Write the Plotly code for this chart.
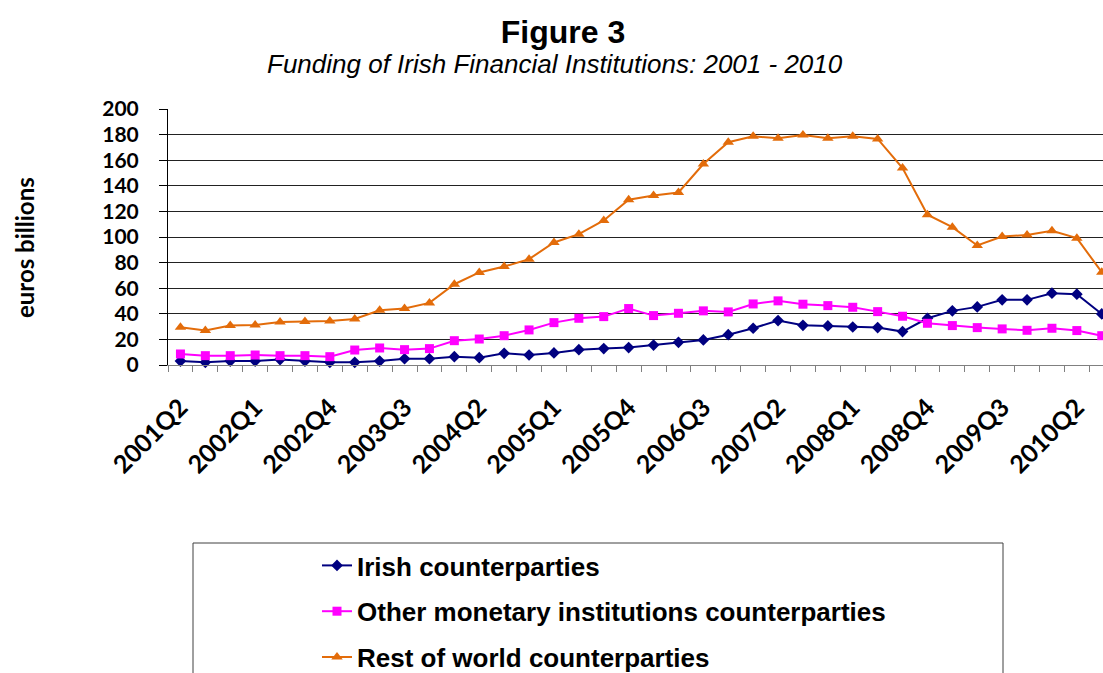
import plotly.graph_objects as go

# quarters 2001Q2 .. 2010Q3
quarters = [f"{y}Q{q}" for y in range(2001, 2011) for q in range(1, 5)][1:39]

irish = [3.1, 2.1, 3.1, 3.1, 4.2, 3.1, 2.1, 2.1, 3.1, 4.9, 4.9, 6.5,
         5.7, 9.1, 7.8, 9.4, 12.0, 12.8, 13.6, 15.6, 17.7, 19.6, 23.7, 28.7,
         34.7, 31.0, 30.5, 29.7, 29.2, 26.1, 36.5, 42.3, 45.4, 50.9, 50.9, 56.1,
         55.3, 39.9]
other_mfi = [8.6, 7.3, 7.3, 7.8, 7.3, 7.3, 6.5, 11.7, 13.3, 12.0, 12.8, 19.0,
             20.3, 22.9, 27.4, 33.1, 36.5, 37.8, 44.1, 38.6, 40.4, 42.3, 41.5, 47.7,
             50.1, 47.5, 46.4, 45.1, 41.7, 38.1, 32.6, 30.8, 29.2, 28.2, 27.1, 28.7,
             26.9, 22.9]
rest_world = [29.5, 26.9, 30.8, 31.3, 33.6, 33.9, 34.4, 36.0, 42.8, 44.1, 48.5, 63.1,
              72.3, 76.9, 82.7, 95.7, 102.2, 112.9, 129.1, 132.5, 134.8, 157.0, 174.0, 178.7,
              177.1, 179.7, 177.1, 178.7, 176.6, 153.9, 117.4, 107.7, 93.4, 100.4, 101.5, 104.9,
              99.1, 72.5]

series = [
    ("Irish counterparties", irish, "#000080", "diamond", 9),
    ("Other monetary institutions counterparties", other_mfi, "#FF00FF", "square", 9),
    ("Rest of world counterparties", rest_world, "#E36C0A", "triangle-up", 10),
]

W, H = 1103, 673
L, R, T, B = 168, 0, 109, 308
pw, ph = W - L - R, H - T - B


def px_x(x):
    return (x - L) / pw


def px_y(y):
    return (H - B - y) / ph


xs = list(range(len(quarters)))
fig = go.Figure()
for name, vals, col, sym, size in series:
    fig.add_trace(go.Scatter(
        x=xs, y=vals, name=name, legendgroup=name, mode="lines+markers",
        line=dict(color=col, width=2),
        marker=dict(symbol=sym, size=size, color=col),
        cliponaxis=False,
    ))

tick_font = dict(family="Lato", size=21, color="black", weight="bold")

fig.update_layout(
    width=W, height=H,
    margin=dict(l=L, r=R, t=T, b=B, autoexpand=False),
    plot_bgcolor="white", paper_bgcolor="white",
    showlegend=True,
    legend=dict(
        x=px_x(317), y=px_y(542), xanchor="left", yanchor="top",
        font=dict(family="Liberation Sans", size=26, color="black", weight="bold"),
        bgcolor="rgba(0,0,0,0)", traceorder="grouped", tracegroupgap=9, itemwidth=30,
    ),
    title=dict(text="<b>Figure 3</b>", x=563 / W, y=1 - 32 / H, xanchor="center", yanchor="middle",
               font=dict(family="Liberation Sans", size=32, color="black")),
)

fig.update_xaxes(
    range=[-0.5, 37.05],
    tickmode="array", tickvals=xs[::3], ticktext=quarters[::3],
    tickangle=-45, tickfont=dict(tick_font, size=25), ticks="", ticklabelstandoff=17,
    showgrid=False, zeroline=False,
    showline=True, linecolor="#808080", linewidth=1,
    minor=dict(tickmode="linear", tick0=-0.5, dtick=1, ticks="outside", ticklen=6,
               tickcolor="#808080", showgrid=False),
)
fig.update_yaxes(
    range=[0, 200], dtick=20, tickfont=tick_font,
    ticks="outside", ticklen=8, tickcolor="black", ticklabelstandoff=16,
    showgrid=True, gridcolor="#222222", gridwidth=1, zeroline=False,
    showline=True, linecolor="black", linewidth=1,
)

# subtitle and axis title
fig.add_annotation(text="<i>Funding of Irish Financial Institutions: 2001 - 2010</i>",
                   x=px_x(555), y=px_y(64), xref="paper", yref="paper", showarrow=False,
                   xanchor="center", yanchor="middle",
                   font=dict(family="Liberation Sans", size=26, color="black"))
fig.add_annotation(text="<b>euros billions</b>", textangle=-90,
                   x=px_x(24), y=px_y(248), xref="paper", yref="paper", showarrow=False,
                   xanchor="center", yanchor="middle",
                   font=dict(family="Lato", size=24, color="black"))

# legend frame
fig.add_shape(type="rect", xref="paper", yref="paper",
              x0=px_x(193), x1=px_x(1003), y0=px_y(700), y1=px_y(543),
              line=dict(color="#404040", width=1), layer="below")

fig.write_html("out.html", config={"displayModeBar": False},
               post_script="document.body.style.margin='0';")
